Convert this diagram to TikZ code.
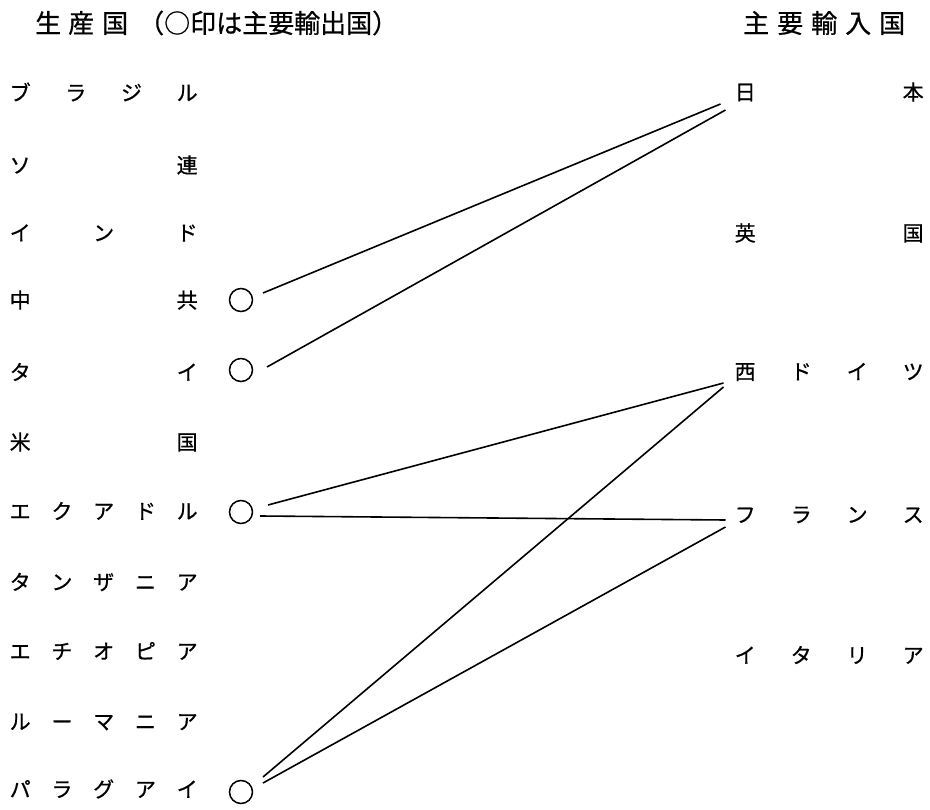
\documentclass[tikz,border=0pt]{standalone}
\usepackage{fontspec}
\setmainfont{Noto Sans CJK JP}[FakeBold=0.7]
\usetikzlibrary{calc}
\begin{document}
\begin{tikzpicture}[x=1pt,y=-1pt,
  lbl/.style={inner sep=0pt, anchor=west, font=\fontsize{21}{21}\selectfont},
  hdr/.style={inner sep=0pt, anchor=west, font=\fontsize{26}{26}\selectfont},
  expmark/.style={circle, draw, line width=1.5pt, minimum size=23pt, inner sep=0pt},
  link/.style={line width=1.6pt}]
\useasboundingbox[fill=white] (0,0) rectangle (930,810);
% headers
\node[hdr] (hl) at (35,23) {生\hspace{7pt}産\hspace{8pt}国\hspace{10pt}（○印は主要輸出国）};
\node[hdr] (hr) at (743,23) {主\hspace{8pt}要\hspace{8pt}輸\hspace{8pt}入\hspace{8pt}国};
% producers
\newcommand{\lrow}[1]{\makebox[188pt]{#1}}
\newcommand{\rrow}[1]{\makebox[189pt]{#1}}
\node[lbl] (br) at (9.5,92)  {\lrow{ブ\hfill ラ\hfill ジ\hfill ル}};
\node[lbl] (su) at (9.5,165) {\lrow{ソ\hfill 連}};
\node[lbl] (in) at (9.5,233) {\lrow{イ\hfill ン\hfill ド}};
\node[lbl] (cn) at (9.5,300) {\lrow{中\hfill 共}};
\node[lbl] (th) at (9.5,372) {\lrow{タ\hfill イ}};
\node[lbl] (us) at (9.5,442) {\lrow{米\hfill 国}};
\node[lbl] (ec) at (9.5,511) {\lrow{エ\hfill ク\hfill ア\hfill ド\hfill ル}};
\node[lbl] (tz) at (9.5,582) {\lrow{タ\hfill ン\hfill ザ\hfill ニ\hfill ア}};
\node[lbl] (et) at (9.5,651) {\lrow{エ\hfill チ\hfill オ\hfill ピ\hfill ア}};
\node[lbl] (ro) at (9.5,722) {\lrow{ル\hfill ー\hfill マ\hfill ニ\hfill ア}};
\node[lbl] (py) at (9.5,789) {\lrow{パ\hfill ラ\hfill グ\hfill ア\hfill イ}};
% importers
\node[lbl] (jp) at (734.5,92)  {\rrow{日\hfill 本}};
\node[lbl] (uk) at (734.5,233) {\rrow{英\hfill 国}};
\node[lbl] (de) at (734.5,372) {\rrow{西\hfill ド\hfill イ\hfill ツ}};
\node[lbl] (fr) at (734.5,515) {\rrow{フ\hfill ラ\hfill ン\hfill ス}};
\node[lbl] (it) at (734.5,655) {\rrow{イ\hfill タ\hfill リ\hfill ア}};
% main exporter marks
\node[expmark] (c1) at (241,300) {};
\node[expmark] (c2) at (241,370) {};
\node[expmark] (c3) at (241,512) {};
\node[expmark] (c4) at (241,792) {};
% connectors
\draw[link] ($(c1)+(22,-7)$) -- ($(jp.west)+(-14,12)$);
\draw[link] ($(c2)+(26,-3)$) -- ($(jp.west)+(-9,18)$);
\draw[link] ($(c3)+(27,-7)$) -- ($(de.west)+(-11,11)$);
\draw[link] ($(c3)+(19,4)$) -- ($(fr.west)+(-9,5)$);
\draw[link] ($(c4)+(22,-15)$) -- ($(de.west)+(-11,15)$);
\draw[link] ($(c4)+(22,-9)$) -- ($(fr.west)+(-9,12)$);
\end{tikzpicture}
\end{document}
